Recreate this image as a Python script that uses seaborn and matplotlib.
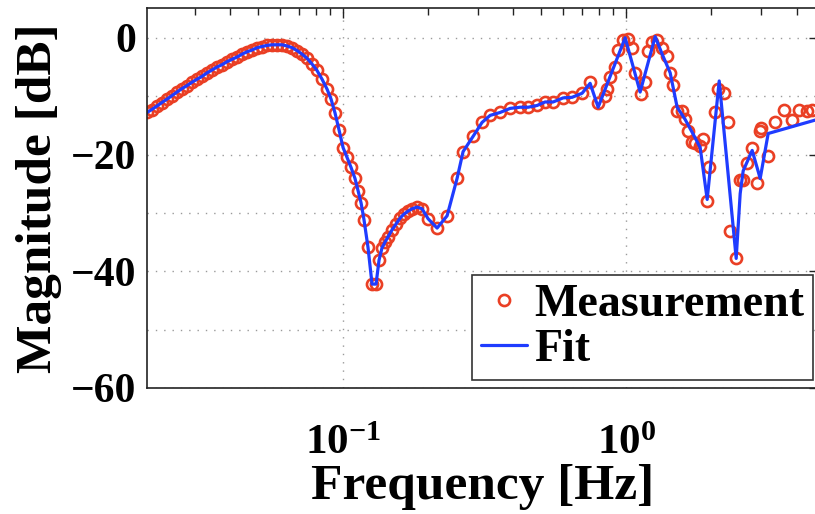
import matplotlib
matplotlib.use("Agg")
import matplotlib.pyplot as plt
import seaborn as sns
import pandas as pd
from matplotlib.ticker import MultipleLocator, NullFormatter

# low-frequency part, shared by measurement and fit
lf_freq = [0.0203, 0.0211, 0.0220, 0.0229, 0.0239, 0.0249, 0.0259, 0.0270, 0.0281, 0.0293,
           0.0305, 0.0318, 0.0331, 0.0345, 0.0359, 0.0374, 0.0389, 0.0405, 0.0422, 0.0440,
           0.0458, 0.0477, 0.0497, 0.0517, 0.0539, 0.0561, 0.0585, 0.0609, 0.0634, 0.0661,
           0.0688, 0.0716, 0.0746, 0.0777, 0.0809, 0.0843, 0.0878, 0.0907, 0.0937, 0.0968,
           0.1000, 0.1033, 0.1067, 0.1102, 0.1130, 0.1158, 0.1186, 0.1225, 0.1266, 0.1308,
           0.1340, 0.1373, 0.1407, 0.1442, 0.1490, 0.1539, 0.1590, 0.1642, 0.1697, 0.1753,
           0.1826, 0.1902, 0.1997, 0.2149, 0.2331, 0.2528, 0.2655, 0.2879, 0.3098, 0.3307,
           0.3587, 0.3891, 0.4220, 0.4505, 0.4846, 0.5172, 0.5521, 0.5989, 0.6443, 0.6992]
lf_db = [-12.8, -12.3, -11.7, -11.1, -10.5, -9.9, -9.3, -8.7, -8.2, -7.6,
         -7.1, -6.6, -6.0, -5.5, -5.0, -4.6, -4.1, -3.7, -3.3, -2.8,
         -2.4, -2.1, -1.7, -1.5, -1.3, -1.2, -1.2, -1.2, -1.4, -1.7,
         -2.2, -2.8, -3.5, -4.5, -5.6, -7.1, -8.8, -10.5, -12.9, -15.8,
         -18.8, -20.5, -22.2, -24.1, -26.2, -28.3, -31.2, -35.9, -42.2, -42.2,
         -38.1, -36.0, -35.0, -34.1, -32.9, -31.9, -30.9, -30.2, -29.7, -29.3,
         -29.0, -29.3, -31.0, -32.6, -30.5, -24.1, -19.5, -16.9, -14.5, -13.3,
         -12.8, -12.1, -11.9, -11.9, -11.6, -11.0, -11.0, -10.3, -10.2, -9.5]

# high-frequency measurement points
meas_freq_hf = [0.7460, 0.7964, 0.8429, 0.8568, 0.8779, 0.9144, 0.9369, 0.9759, 1.0164, 1.0501,
                1.0761, 1.1298, 1.1672, 1.1961, 1.2354, 1.2867, 1.3403, 1.3959, 1.4305, 1.4659,
                1.5142, 1.5771, 1.6161, 1.6561, 1.7109, 1.7532, 1.8260, 1.8712, 1.9332, 1.9651,
                2.0634, 2.1144, 2.2198, 2.2931, 2.3306, 2.4474, 2.5282, 2.5907, 2.6767, 2.7874,
                2.9036, 2.9752, 2.9992, 3.1750, 3.3613, 3.6165, 3.8602, 4.0869, 4.3618, 4.5424]
meas_db_hf = [-7.6, -11.2, -10.0, -8.8, -6.7, -5.0, -2.1, -0.3, -0.2, -1.7,
              -6.0, -9.7, -7.6, -2.2, -0.7, -0.3, -1.7, -3.1, -6.0, -8.1,
              -12.6, -12.6, -14.0, -15.9, -17.9, -18.1, -18.6, -17.4, -27.9, -22.1,
              -12.8, -8.8, -9.5, -14.5, -33.1, -37.8, -24.3, -24.3, -21.4, -18.8,
              -24.8, -15.9, -15.5, -20.2, -14.5, -12.4, -14.1, -12.4, -12.6, -12.4]

# high-frequency fit points
fit_freq_hf = [0.7460, 0.7964, 0.9919, 1.1205, 1.2661, 1.3403, 1.4305, 1.5142, 1.6161, 1.7244,
               1.8260, 1.9332, 2.1317, 2.4474, 2.5282, 2.5907, 2.7874, 2.9752, 3.1750, 4.6544]
fit_db_hf = [-7.8, -11.9, 0.0, -9.3, 0.2, -2.8, -6.0, -11.9, -14.0, -16.5,
             -18.8, -27.7, -7.4, -37.8, -26.7, -22.8, -19.3, -24.1, -16.4, -14.1]

meas = pd.DataFrame({"freq": lf_freq + meas_freq_hf, "db": lf_db + meas_db_hf})
fit = pd.DataFrame({"freq": lf_freq + fit_freq_hf, "db": lf_db + fit_db_hf})

sns.set_style("white")
plt.rcParams["font.family"] = ["Liberation Serif", "DejaVu Serif"]
plt.rcParams["font.weight"] = "bold"
plt.rcParams["text.color"] = "black"
plt.rcParams["axes.labelcolor"] = "black"
plt.rcParams["mathtext.fontset"] = "custom"
plt.rcParams["mathtext.rm"] = "Liberation Serif:bold"
plt.rcParams["mathtext.it"] = "Liberation Serif:bold"
plt.rcParams["mathtext.bf"] = "Liberation Serif:bold"

fig = plt.figure(figsize=(8.15, 5.14), dpi=100)
ax = fig.add_axes([147 / 815, 126 / 514, 672 / 815, 380 / 514])

sns.lineplot(data=meas, x="freq", y="db", ax=ax, sort=False, estimator=None,
             linestyle="none", marker="o", markersize=8, markerfacecolor="none",
             markeredgecolor="#ea3f24", markeredgewidth=1.9, label="Measurement")
sns.lineplot(data=fit, x="freq", y="db", ax=ax, sort=False, estimator=None,
             color="#1f3cff", linewidth=2.3, label="Fit")

ax.set_xscale("log")
ax.set_xlim(0.0203, 4.8)
ax.set_ylim(-60, 5.1)
ax.set_yticks([-60, -40, -20, 0])
ax.yaxis.set_minor_locator(MultipleLocator(10))
ax.xaxis.set_minor_formatter(NullFormatter())

ax.grid(True, which="major", axis="both", linestyle=(0, (1, 5)), color="#9a9a9a", linewidth=1.0)
ax.grid(True, which="minor", axis="y", linestyle=(0, (1, 5)), color="#9a9a9a", linewidth=1.0)

for s in ax.spines.values():
    s.set_color("#222222")
    s.set_linewidth(1.2)

ax.tick_params(which="both", direction="in", top=True, right=True, colors="#222222",
               labelcolor="black")
ax.tick_params(which="major", length=7, width=1)
ax.tick_params(which="minor", length=5, width=1)
ax.tick_params(axis="y", which="minor", length=0)
ax.tick_params(axis="x", labelsize=31, pad=27)
ax.tick_params(axis="y", labelsize=30, pad=8)

ax.set_xlabel("Frequency [Hz]", fontsize=37, fontweight="bold", labelpad=0)
ax.set_ylabel("Magnitude [dB]", fontsize=37, fontweight="bold", labelpad=6)

leg = ax.legend(loc="lower right", bbox_to_anchor=(813 / 815, 134 / 514),
                bbox_transform=fig.transFigure, borderaxespad=0, fontsize=33,
                frameon=True, fancybox=False, framealpha=1, edgecolor="#333333",
                handlelength=1.0, handletextpad=0.15, labelspacing=0.05, borderpad=0.2)
leg.get_frame().set_linewidth(1.2)

fig.savefig("out.png", dpi=100)
